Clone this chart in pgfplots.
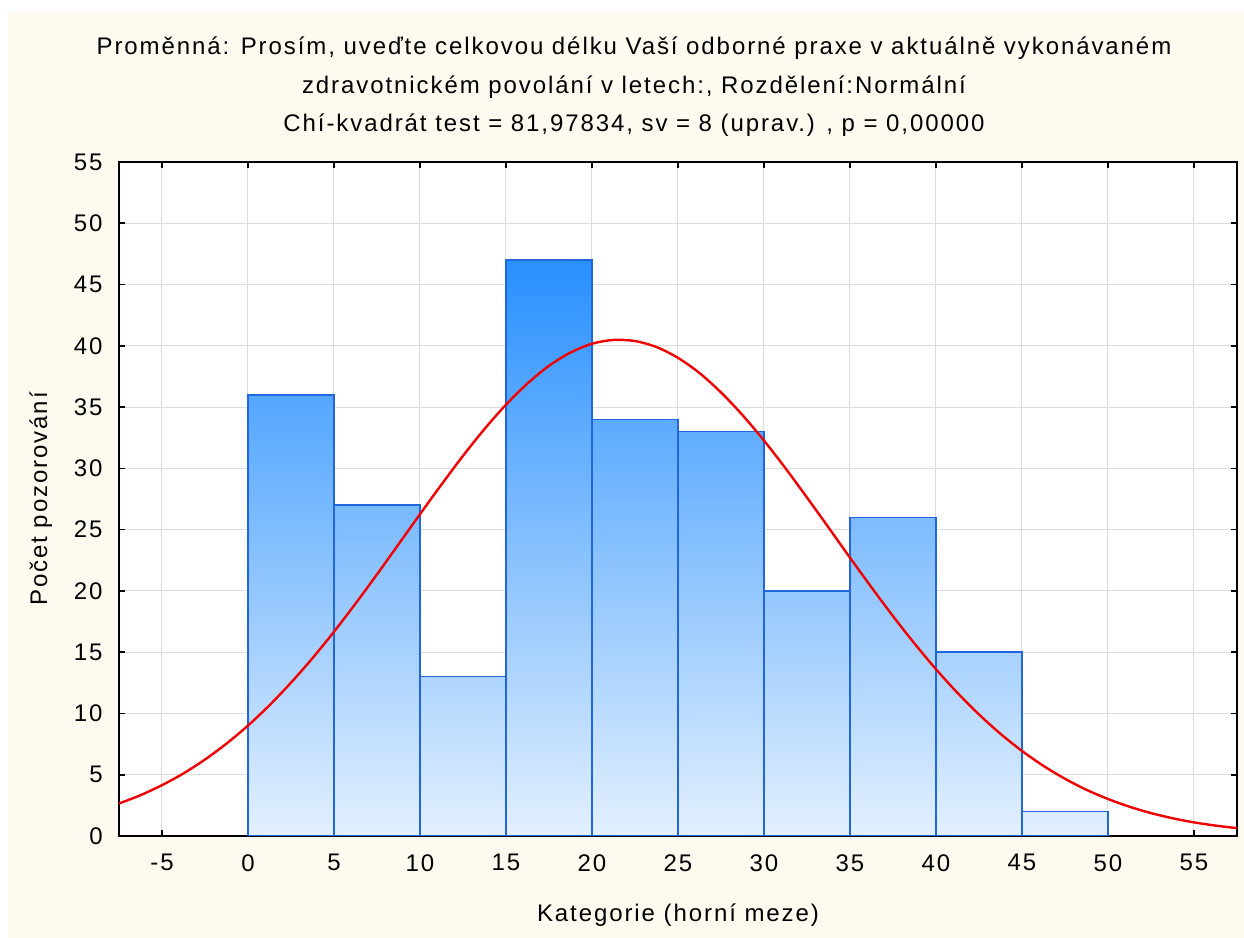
\documentclass[border=0pt]{standalone}
\usepackage{fontspec}
\setmainfont{Liberation Sans}[LetterSpace=8]
\usepackage{pgfplots}
\pgfplotsset{compat=1.18}
\definecolor{cream}{HTML}{FFFAF0}
\definecolor{bartop}{HTML}{2890FF}
\definecolor{barbot}{HTML}{E3F0FE}
\definecolor{baredge}{HTML}{2266DD}
\definecolor{gridc}{HTML}{DCDCDC}
\definecolor{curvec}{HTML}{F00000}
\newcommand{\histbar}[4]{% x0, x1, height, percent
  \addplot[draw=baredge, line width=0.7pt, top color=bartop!#4!barbot, bottom color=barbot, forget plot]
    coordinates {(#1,0) (#1,#3) (#2,#3) (#2,0)} --cycle;}
\begin{document}
\begin{tikzpicture}
\fill[white] (0,0) rectangle (622pt,469pt);
\fill[cream] (4pt,0) rectangle (622pt,462.5pt);
\node[anchor=base, font=\fontsize{12}{14}\selectfont] at (317pt,441.5pt) {Proměnná: Prosím, uveďte celkovou délku Vaší odborné praxe v aktuálně vykonávaném};
\node[anchor=base, font=\fontsize{12}{14}\selectfont] at (317pt,422pt) {zdravotnickém povolání v letech:, Rozdělení:Normální};
\node[anchor=base, font=\fontsize{12}{14}\selectfont] at (317pt,403pt) {Chí-kvadrát test = 81,97834, sv = 8 (uprav.) , p = 0,00000};
\begin{axis}[
  at={(59.5pt,51pt)}, anchor=south west,
  scale only axis, width=559pt, height=337pt,
  xmin=-7.5, xmax=57.5, ymin=0, ymax=55,
  xtick={-5,0,...,55}, ytick={0,5,...,55},
  grid=major, major grid style={gridc, line width=0.5pt},
  axis line style={black, line width=1.4pt},
  tick style={black, line width=0.8pt},
  tick align=inside, major tick length=3pt,
  xtick pos=both, ytick pos=both,
  xticklabel pos=lower, yticklabel pos=left,
  /pgf/number format/assume math mode=true,
  tick label style={font=\fontsize{12}{14}\selectfont, inner sep=0pt},
  yticklabel style={xshift=-8pt},
  xticklabel style={yshift=-9pt},
  xlabel={Kategorie (horní meze)},
  ylabel={Počet pozorování},
  label style={font=\fontsize{12}{14}\selectfont},
  xlabel style={at={(axis description cs:0.5,-0.117)}, anchor=center},
  ylabel style={at={(axis description cs:-0.070,0.5)}, anchor=center, rotate=0},
  axis background/.style={fill=white},
  clip=true,
]
\histbar{0}{5}{36}{77}
\histbar{5}{10}{27}{57}
\histbar{10}{15}{13}{28}
\histbar{15}{20}{47}{100}
\histbar{20}{25}{34}{72}
\histbar{25}{30}{33}{70}
\histbar{30}{35}{20}{43}
\histbar{35}{40}{26}{55}
\histbar{40}{45}{15}{32}
\histbar{45}{50}{2}{4}
\addplot[curvec, line width=1.2pt, smooth] coordinates {
(-7.5,2.65) (-6.25,3.33) (-5,4.15) (-3.75,5.11) (-2.5,6.24) (-1.25,7.54)
(0,9.01) (1.25,10.67) (2.5,12.51) (3.75,14.51) (5,16.67) (6.25,18.96)
(7.5,21.35) (8.75,23.80) (10,26.26) (11.25,28.68) (12.5,31.02) (13.75,33.21)
(15,35.20) (16.25,36.93) (17.5,38.37) (18.75,39.45) (20,40.17) (21.25,40.48)
(22.5,40.39) (23.75,39.90) (25,39.02) (26.25,37.78) (27.5,36.20) (28.75,34.35)
(30,32.27) (31.25,30.01) (32.5,27.62) (33.75,25.18) (35,22.71) (36.25,20.29)
(37.5,17.94) (38.75,15.71) (40,13.61) (41.25,11.68) (42.5,9.92) (43.75,8.34)
(45,6.94) (46.25,5.72) (47.5,4.67) (48.75,3.77) (50,3.02) (51.25,2.39)
(52.5,1.87) (53.75,1.45) (55,1.11) (56.25,0.85) (57.5,0.64)};
\end{axis}
\pgfresetboundingbox
\path (0,0) rectangle (622pt,469pt);
\end{tikzpicture}
\end{document}
